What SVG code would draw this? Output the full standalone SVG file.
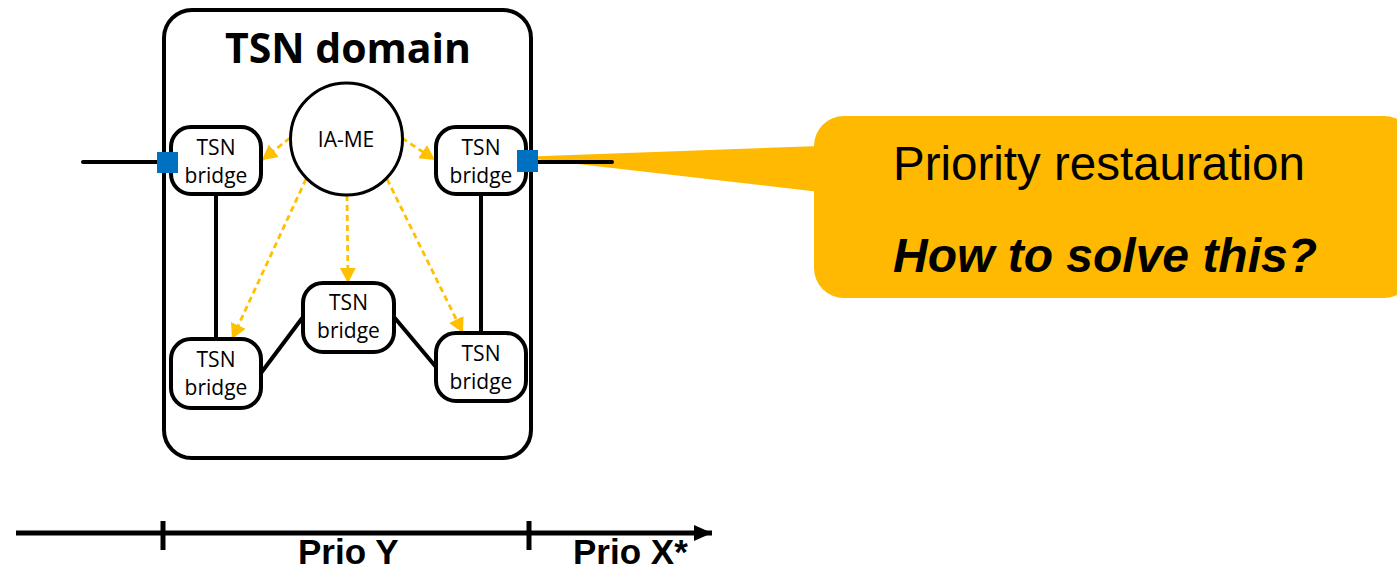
<svg xmlns="http://www.w3.org/2000/svg" width="1397" height="571" viewBox="0 0 1397 571">
  <style>
    .domain { fill: #fff; stroke: #000; stroke-width: 4; }
    .bridge { fill: #fff; stroke: #000; stroke-width: 4; }
    .label { font-family: "Open Sans", "Noto Sans", sans-serif; font-size: 21px; fill: #000; text-anchor: middle; }
    .link { stroke: #000; stroke-width: 4; fill: none; stroke-linecap: round; }
    .mgmt { stroke: #FFC000; stroke-width: 2.8; fill: none; stroke-dasharray: 6 4; }
    .port { fill: #0070C0; }
    .callout { fill: #FFB900; }
    .axis { stroke: #000; stroke-width: 5; fill: none; }
    .prio { font-family: "Liberation Sans", Arial, sans-serif; font-weight: bold; font-size: 35px; fill: #000; }
  </style>
  <defs>
    <marker id="arrowY" markerUnits="userSpaceOnUse" markerWidth="18" markerHeight="18" refX="15" refY="8" orient="auto">
      <path d="M0,0 L15,8 L0,16 Z" fill="#FFC000"/>
    </marker>
    <marker id="arrowK" markerUnits="userSpaceOnUse" markerWidth="20" markerHeight="18" refX="18" refY="8" orient="auto">
      <path d="M0,0 L18,8 L0,16 Z" fill="#000"/>
    </marker>
  </defs>

  <!-- callout bubble with pointer toward the egress port -->
  <g id="callout">
    <polygon class="callout" points="517,157 820,146 820,192"/>
    <rect class="callout" x="814" y="116" width="600" height="182" rx="30"/>
    <text x="893" y="180" font-family="Liberation Sans, Arial, sans-serif" font-size="47.5">Priority restauration</text>
    <text x="893" y="272" font-family="Liberation Sans, Arial, sans-serif" font-size="48" font-weight="bold" font-style="italic">How to solve this?</text>
  </g>

  <!-- TSN domain frame -->
  <g id="domain">
    <rect class="domain" x="164" y="10" width="367" height="448" rx="28"/>
    <text x="348" y="63" font-family="Open Sans, Noto Sans, sans-serif" font-size="41" font-weight="bold" text-anchor="middle">TSN domain</text>
  </g>

  <!-- links between bridges and management arrows -->
  <g id="connectors">
    <line class="link" x1="83" y1="162" x2="160" y2="162"/>
    <line class="link" x1="535" y1="162" x2="612" y2="162"/>
    <line class="link" x1="216" y1="194" x2="216" y2="339"/>
    <line class="link" x1="481" y1="194" x2="481" y2="333"/>
    <line class="link" x1="261" y1="373" x2="303" y2="317"/>
    <line class="link" x1="394" y1="317" x2="436" y2="367"/>
    <line class="mgmt" x1="290" y1="138" x2="262" y2="160" marker-end="url(#arrowY)"/>
    <line class="mgmt" x1="402" y1="138" x2="435" y2="160" marker-end="url(#arrowY)"/>
    <line class="mgmt" x1="306" y1="179" x2="232" y2="339" marker-end="url(#arrowY)"/>
    <line class="mgmt" x1="347" y1="195" x2="348" y2="283" marker-end="url(#arrowY)"/>
    <line class="mgmt" x1="387" y1="179" x2="463" y2="333" marker-end="url(#arrowY)"/>
  </g>

  <g id="iame">
    <circle cx="346.5" cy="139" r="56" fill="#fff" stroke="#000" stroke-width="3"/>
    <text class="label" x="346" y="147" font-size="23">IA-ME</text>
  </g>

  <g id="bridge-tl">
    <rect class="bridge" x="171" y="127" width="90" height="67" rx="20"/>
    <text class="label" x="216" y="155">TSN</text>
    <text class="label" x="216" y="183">bridge</text>
  </g>
  <g id="bridge-tr">
    <rect class="bridge" x="436" y="127" width="90" height="67" rx="20"/>
    <text class="label" x="481" y="155">TSN</text>
    <text class="label" x="481" y="183">bridge</text>
  </g>
  <g id="bridge-mid">
    <rect class="bridge" x="303" y="283" width="91" height="69" rx="20"/>
    <text class="label" x="348.5" y="310">TSN</text>
    <text class="label" x="348.5" y="338">bridge</text>
  </g>
  <g id="bridge-bl">
    <rect class="bridge" x="171" y="339" width="90" height="69" rx="20"/>
    <text class="label" x="216" y="367">TSN</text>
    <text class="label" x="216" y="395">bridge</text>
  </g>
  <g id="bridge-br">
    <rect class="bridge" x="436" y="333" width="90" height="68" rx="20"/>
    <text class="label" x="481" y="361">TSN</text>
    <text class="label" x="481" y="389">bridge</text>
  </g>

  <!-- ingress / egress ports, drawn over the frame and bridges -->
  <g id="port-in"><rect class="port" x="157" y="152" width="21" height="21"/></g>
  <g id="port-out"><rect class="port" x="517" y="150" width="21" height="22"/></g>

  <!-- priority timeline -->
  <g id="timeline">
    <line class="axis" x1="16" y1="533" x2="712" y2="533" marker-end="url(#arrowK)"/>
    <line class="axis" x1="163" y1="521" x2="163" y2="550"/>
    <line class="axis" x1="529" y1="521" x2="529" y2="550"/>
    <text class="prio" x="298" y="564">Prio Y</text>
    <text class="prio" x="573" y="564">Prio X*</text>
  </g>
</svg>
